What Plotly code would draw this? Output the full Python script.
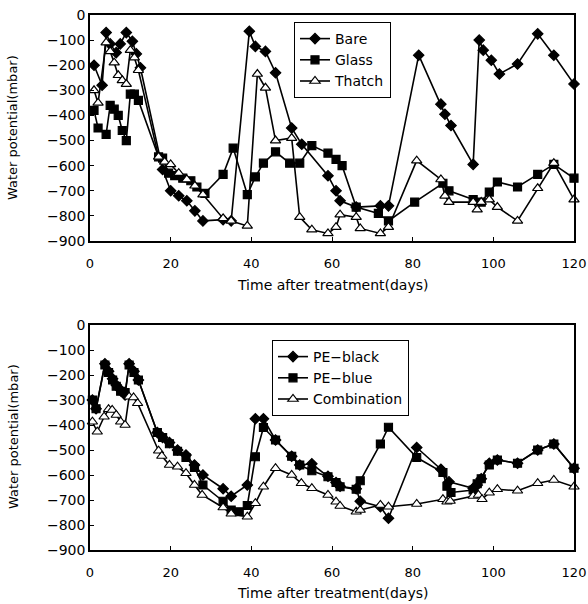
import plotly.graph_objects as go

# ---------------- Top panel data ----------------
bare_days = [1, 3, 4, 5, 6.5, 7.5, 9, 10.5, 11.5, 12.5, 18, 20, 22, 24, 26, 28, 33, 35,
             39.5, 41, 43.5, 46, 50, 52.5, 59, 61, 62, 66, 72, 74, 81.5, 87, 88, 89.5,
             95, 96.5, 97.5, 99.5, 101.5, 106, 111, 115, 120]
bare_vals = [-200, -280, -70, -115, -150, -115, -70, -105, -155, -210, -615, -700, -720,
             -740, -780, -820, -815, -820, -65, -125, -145, -230, -450, -515, -640, -700,
             -740, -765, -760, -760, -160, -355, -395, -440, -595, -100, -140, -180, -235,
             -195, -75, -160, -275]

glass_days = [1, 2, 4, 5, 6, 7, 8, 9, 10, 11, 12, 17, 18, 19.5, 21, 23, 25, 26.5, 28.5,
              33, 35.5, 39, 41, 43, 46, 49.5, 52, 55, 59, 61, 62.5, 66, 71.5, 74, 80.5,
              87.5, 89, 95, 97, 99, 101, 106, 111, 115, 120]
glass_vals = [-380, -450, -475, -360, -375, -400, -460, -500, -315, -315, -340, -565, -570,
              -630, -640, -650, -660, -685, -710, -635, -530, -715, -645, -590, -545, -590,
              -590, -520, -550, -575, -600, -765, -790, -820, -745, -670, -700, -735, -745,
              -705, -665, -685, -635, -595, -650]

thatch_days = [1, 2, 4, 5, 6, 7, 8, 9, 10, 11, 12, 17, 18.5, 20, 22, 24, 26, 28, 33, 35, 39,
               41.5, 43.5, 46, 50, 52, 55, 59, 61, 62, 66, 67, 72, 74, 81, 87, 88, 89, 95,
               96, 97, 99, 101, 106, 111, 115, 120]
thatch_vals = [-300, -350, -110, -145, -190, -240, -260, -275, -140, -170, -220, -565, -585,
               -595, -630, -655, -680, -715, -810, -820, -840, -235, -290, -500, -490, -805,
               -855, -870, -845, -795, -805, -850, -870, -845, -580, -655, -720, -745, -745,
               -775, -745, -735, -765, -820, -690, -590, -735]

# ---------------- Bottom panel data ----------------
black_days = [0.6, 1.5, 3.7, 4.6, 5.6, 6.5, 7.6, 8.7, 9.7, 10.9, 12, 16.7, 18, 19.7, 21.7,
              23.8, 25.9, 28, 33, 35, 39, 41, 43, 46, 50, 52, 55, 59, 61, 62, 66, 67, 72,
              74, 81, 87, 89, 95, 96, 97, 99, 101, 106, 111, 115, 120]
black_vals = [-300, -335, -155, -185, -215, -240, -260, -280, -155, -185, -220, -430, -450,
              -470, -500, -520, -560, -600, -655, -685, -640, -375, -375, -460, -525, -560,
              -555, -605, -630, -645, -655, -705, -727, -773, -490, -577, -627, -653, -640,
              -615, -553, -540, -553, -500, -476, -573]

blue_days = [0.6, 1.5, 3.7, 4.6, 5.6, 6.5, 7.6, 8.7, 9.7, 10.9, 12, 16.7, 18, 19.7, 21.7,
             23.8, 25.9, 28, 33, 35, 37, 39, 41, 43, 46, 50, 52, 55, 59, 61, 62, 66, 67,
             72, 74, 81, 87.5, 88.5, 89.5, 95, 96, 97, 99, 101, 106, 111, 115, 120]
blue_vals = [-300, -335, -160, -190, -220, -245, -265, -270, -160, -190, -220, -430, -450,
             -475, -505, -530, -570, -640, -705, -740, -747, -722, -527, -410, -460, -525,
             -560, -583, -607, -630, -647, -657, -623, -476, -409, -530, -590, -645, -670,
             -660, -635, -615, -560, -540, -553, -500, -476, -573]

comb_days = [0.6, 1.8, 3.5, 4.6, 5.5, 6.5, 7.6, 8.7, 9.7, 10.8, 11.8, 17, 17.8, 19.7, 21.7,
             23.8, 25.9, 27.8, 33, 35, 39, 41, 43, 46, 50, 52.4, 55, 59, 61, 62, 66, 67,
             72, 74, 81, 87.5, 88.5, 89.3, 95, 96.3, 97.2, 99, 101, 106, 111, 115, 120]
comb_vals = [-387, -427, -367, -337, -340, -360, -387, -400, -287, -290, -313, -503, -524,
             -560, -567, -593, -640, -680, -730, -755, -767, -713, -647, -573, -600, -633,
             -653, -680, -707, -724, -747, -740, -720, -727, -716, -697, -707, -704, -684,
             -680, -697, -671, -657, -663, -633, -620, -647]

x_ticks = [0, 20, 40, 60, 80, 100, 120]
y_ticks = [0, -100, -200, -300, -400, -500, -600, -700, -800, -900]
y_tick_labels = ["0", "−100", "−200", "−300", "−400", "−500", "−600", "−700",
                 "−800", "−900"]

x_title = "Time after treatment(days)"
y_title = "Water potential(mbar)"

FONT = "DejaVu Sans"
W, H = 588, 604

fig = go.Figure()

def add(x, y, name, symbol, size, fill, xa, ya, legend):
    fig.add_trace(go.Scatter(
        x=x, y=y, name=name, mode="lines+markers",
        line=dict(color="black", width=1.6),
        marker=dict(symbol=symbol, size=size, color=fill,
                    line=dict(color="black", width=1.2)),
        xaxis=xa, yaxis=ya, legend=legend, cliponaxis=False))

add(bare_days, bare_vals, "Bare", "diamond", 8, "black", "x", "y", "legend")
add(glass_days, glass_vals, "Glass", "square", 8, "black", "x", "y", "legend")
add(thatch_days, thatch_vals, "Thatch", "triangle-up", 9, "white", "x", "y", "legend")
add(black_days, black_vals, "PE−black", "diamond", 8, "black", "x2", "y2", "legend2")
add(blue_days, blue_vals, "PE−blue", "square", 8, "black", "x2", "y2", "legend2")
add(comb_days, comb_vals, "Combination", "triangle-up", 9, "white", "x2", "y2", "legend2")

px0, px1 = 90, 574
top = (15, 241)
bot = (325, 550)

def yd(t):
    return [1 - t[1] / H, 1 - t[0] / H]

xaxis_common = dict(
    range=[0, 120], tickvals=x_ticks, showgrid=False, zeroline=False,
    showline=True, linecolor="black", linewidth=1.5, mirror=True,
    ticks="inside", ticklen=4, tickcolor="black", ticklabelstandoff=10,
    tickfont=dict(family=FONT, size=13, color="black"),
    domain=[px0 / W, px1 / W], automargin=False)

yaxis_common = dict(
    range=[-900, 0], tickvals=y_ticks, ticktext=y_tick_labels, showgrid=False,
    zeroline=False, showline=True, linecolor="black", linewidth=1.5, mirror=True,
    ticks="inside", ticklen=4, tickcolor="black",
    tickfont=dict(family=FONT, size=14, color="black"),
    automargin=False)

legend_common = dict(
    bgcolor="white", bordercolor="black", borderwidth=1,
    font=dict(family=FONT, size=14, color="black"),
    xanchor="left", yanchor="top", tracegroupgap=0, itemwidth=30)

title_font = dict(family=FONT, size=14, color="black")
xc = (px0 + px1) / 2
annotations = [
    dict(text=x_title, x=xc / W, y=1 - 285 / H, xref="paper", yref="paper",
         xanchor="center", yanchor="middle", showarrow=False, font=title_font),
    dict(text=x_title, x=xc / W, y=1 - 593 / H, xref="paper", yref="paper",
         xanchor="center", yanchor="middle", showarrow=False, font=title_font),
    dict(text=y_title, x=13 / W, y=1 - 128 / H, xref="paper", yref="paper",
         xanchor="center", yanchor="middle", textangle=-90, showarrow=False,
         font=dict(family=FONT, size=13, color="black")),
    dict(text=y_title, x=13 / W, y=1 - 437 / H, xref="paper", yref="paper",
         xanchor="center", yanchor="middle", textangle=-90, showarrow=False,
         font=dict(family=FONT, size=13, color="black")),
]

fig.update_layout(
    width=W, height=H, margin=dict(l=0, r=0, t=0, b=0),
    paper_bgcolor="white", plot_bgcolor="white",
    xaxis=dict(**xaxis_common, anchor="y"),
    yaxis=dict(**yaxis_common, domain=yd(top), anchor="x"),
    xaxis2=dict(**xaxis_common, anchor="y2"),
    yaxis2=dict(**yaxis_common, domain=yd(bot), anchor="x2"),
    legend=dict(**legend_common, x=294 / W, y=1 - 22 / H),
    legend2=dict(**legend_common, x=272 / W, y=1 - 340 / H),
    annotations=annotations,
    showlegend=True,
)

fig.write_html(
    "out.html",
    config={"displayModeBar": False},
    post_script="document.body.style.margin='0';document.body.style.overflow='hidden';",
)
